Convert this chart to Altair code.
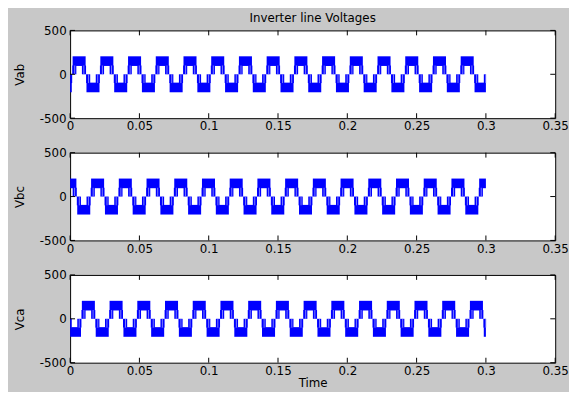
import altair as alt
import pandas as pd

# ---- values ----
panel_names = ["Vab", "Vbc", "Vca"]
# centre of the first positive half-cycle of each line voltage (ms)
peak_centres_ms = [6.5, -0.17, 13.17]
period_ms = 20.0
sim_end_ms = 300.0
cycle_index = list(range(-1, 17))

# one read cycle, relative to the positive-half centre (ms, volts):
# outer PWM block (100..200) and the inner "legs" (0..100) at each edge
seg_start = [-4.7, -5.0, 2.0, 5.3, 5.0, 12.0]
seg_end = [4.7, -2.0, 5.0, 14.7, 8.0, 15.0]
seg_low = [95, 0, 0, -205, -100, -100]
seg_high = [205, 100, 100, -95, 0, 0]
# thin light PWM lines seen inside the legs (ms from the positive-half centre)
gap_times = [-3.2, 3.4, 6.8, 13.4]
gap_low = [0, 0, -100, -100]
gap_high = [100, 100, 0, 0]

time_ticks = [0, 0.05, 0.1, 0.15, 0.2, 0.25, 0.3, 0.35]
volt_ticks = [-500, 0, 500]

# ---- build tables ----
rows, gaps = [], []
for name, c in zip(panel_names, peak_centres_ms):
    for k in cycle_index:
        base = c + k * period_ms
        for s, e, lo, hi in zip(seg_start, seg_end, seg_low, seg_high):
            t0 = max(base + s, 0.0)
            t1 = min(base + e, sim_end_ms)
            if t1 > t0:
                rows.append(dict(panel=name, t0=t0 / 1000, t1=t1 / 1000, lo=lo, hi=hi))
        for g, lo, hi in zip(gap_times, gap_low, gap_high):
            tg = base + g
            if 0 < tg < sim_end_ms:
                gaps.append(dict(panel=name, t=tg / 1000, lo=lo, hi=hi))
wave = pd.DataFrame(rows)
gapdf = pd.DataFrame(gaps)
xt = pd.DataFrame({"t": time_ticks})
yt = pd.DataFrame({"v": volt_ticks})

W, H = 492, 89
FONT = "DejaVu Sans"
xs = alt.Scale(domain=[0, 0.35], nice=False, zero=False)
ys = alt.Scale(domain=[-500, 500], nice=False)


def panel(name, last, first):
    xaxis = alt.Axis(values=time_ticks, format="~g", ticks=False, grid=False,
                     labelPadding=3, labelFontSize=12, labelFont=FONT, labelColor="black",
                     title="Time" if last else None, titleFont=FONT, titleFontSize=12,
                     titleFontWeight="normal", titleColor="black", titlePadding=1,
                     domain=False, labelFlush=False)
    yaxis = alt.Axis(values=volt_ticks, labelExpr="'' + datum.value", ticks=False,
                     grid=False, labelPadding=4, labelFontSize=12, labelFont=FONT,
                     labelColor="black", title=name, titleFont=FONT, titleFontSize=12,
                     titleFontWeight="normal", titleColor="black", titlePadding=13,
                     domain=False)
    d = wave[wave.panel == name]
    rect = alt.Chart(d).mark_rect(color="#0000ff").encode(
        x=alt.X("t0:Q", scale=xs, axis=xaxis),
        x2="t1:Q",
        y=alt.Y("lo:Q", scale=ys, axis=yaxis),
        y2="hi:Q",
    )
    gl = alt.Chart(gapdf[gapdf.panel == name]).mark_rule(
        color="#9a9aff", strokeWidth=0.8).encode(
        x=alt.X("t:Q", scale=xs), y=alt.Y("lo:Q", scale=ys), y2="hi:Q")
    tb = alt.Chart(xt).mark_rule(color="black", strokeWidth=1).encode(
        x=alt.X("t:Q", scale=xs), y=alt.value(H), y2=alt.value(H - 5))
    tt = alt.Chart(xt).mark_rule(color="black", strokeWidth=1).encode(
        x=alt.X("t:Q", scale=xs), y=alt.value(0), y2=alt.value(5))
    tl = alt.Chart(yt).mark_rule(color="black", strokeWidth=1).encode(
        y=alt.Y("v:Q", scale=ys), x=alt.value(0), x2=alt.value(5))
    tr = alt.Chart(yt).mark_rule(color="black", strokeWidth=1).encode(
        y=alt.Y("v:Q", scale=ys), x=alt.value(W), x2=alt.value(W - 5))
    ch = alt.layer(rect, gl, tb, tt, tl, tr).properties(width=W, height=H)
    if first:
        ch = ch.properties(title=alt.TitleParams("Inverter line Voltages", font=FONT,
                                                 fontSize=12, fontWeight="normal",
                                                 color="black", anchor="middle", offset=0))
    return ch


chart = alt.vconcat(
    panel("Vab", False, True),
    panel("Vbc", False, False),
    panel("Vca", True, False),
    spacing=13,
).properties(
    background="#c8c8c8",
    padding={"left": 5, "top": 0, "right": 0, "bottom": 0},
).configure_view(fill="white", stroke="black", strokeWidth=1)

chart.save("out.html", embed_options={"renderer": "svg", "actions": False})
